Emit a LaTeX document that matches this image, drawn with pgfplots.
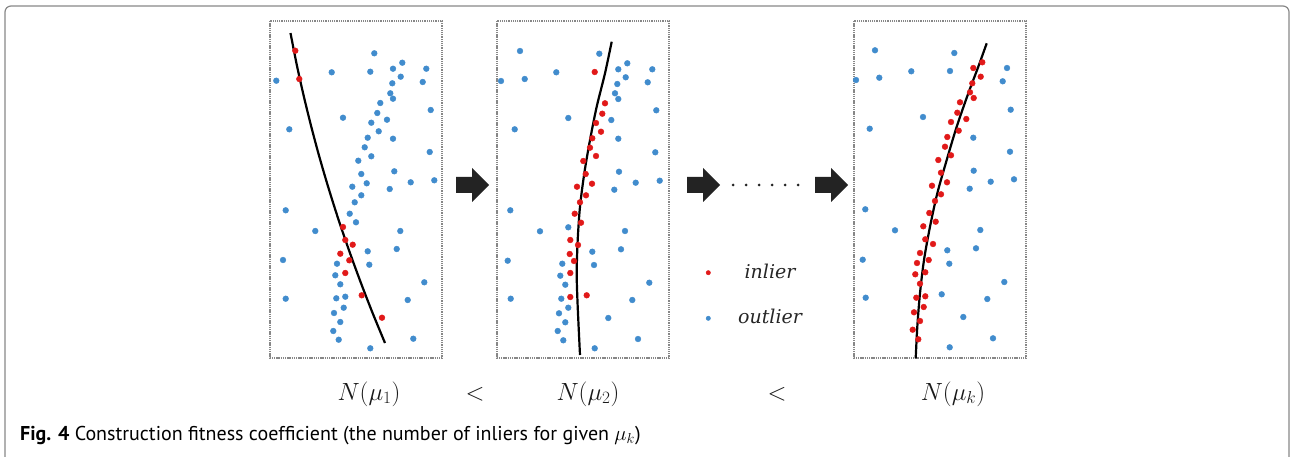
\documentclass[border=0pt]{standalone}
\usepackage{pgfplots}
\pgfplotsset{compat=1.18}
\usepackage{fontspec}
\newfontfamily\capfont{PT Sans}
\newfontfamily\legfont{DejaVu Serif}
\definecolor{ptblue}{RGB}{65,140,205}
\definecolor{ptred}{RGB}{225,25,25}
\definecolor{framegray}{RGB}{135,135,135}
\definecolor{arrowgray}{RGB}{35,35,35}
\pgfplotsset{
  panel/.style={scale only axis, width=172pt, height=337pt,
    ymin=21, ymax=358, y dir=reverse, ticks=none, clip=false, anchor=center,
    axis line style={framegray, line width=1.3pt, dash pattern=on 1.3pt off 0.9pt}},
  inl/.style={only marks, color=ptred, mark=*, mark size=2.9pt, mark options={solid, fill=ptred, draw=ptred}},
  outl/.style={only marks, color=ptblue, mark=*, mark size=2.9pt, mark options={solid, fill=ptblue, draw=ptblue}},
  fit/.style={black, line width=2.2pt, smooth, no marks},
}
\begin{document}
\begin{tikzpicture}
\path[use as bounding box] (0,0) rectangle (1291pt,-457pt);
% outer frame
\draw[framegray, line width=1.2pt, rounded corners=6pt] (5pt,-457pt) -- (5pt,-6pt) -- (1289pt,-6pt) -- (1289pt,-457pt);

% ---------------- panel 1
\begin{axis}[panel, xmin=270, xmax=442, at={(356pt,-189.5pt)}]
\addplot[outl] coordinates {
(374.3,53.3) (402.3,62.7) (426.3,68.7) (331.7,72.3) (370.3,71.7) (393,68.7)
(276.3,80.7) (400.7,76.7) (422.7,82) (392.3,83.3) (390.3,93.3) (393,98.7)
(380.3,103) (430.7,110) (377.3,113) (343,117.7) (387,119.7) (371.3,122.7)
(289.3,129.3) (378.7,131.3) (367.7,137.7) (393,138.7) (364.7,147.3) (429.7,152)
(371.3,156.3) (358.3,160.7) (394.3,171.3) (361.3,174) (410.7,182.3) (434.3,180.3)
(352.3,186.7) (366.7,183.3) (389.7,189) (361.3,195.3) (354.7,202.3) (285.7,210.3)
(349.7,213.7) (356,222.3) (315.3,231) (400.3,231) (396.7,249) (367.7,251.3)
(283,260) (337,263.7) (369.3,264.7) (335.3,275.3) (340.3,284.3) (424.3,282.3)
(285.7,298.7) (336.3,298.3) (345.3,296.7) (407.7,300) (343.7,307.7) (334,313)
(340.3,322) (333.3,331) (338.7,339.7) (413.3,338.7) (370.3,348.3)};
\addplot[fit] coordinates {
(290.5,33) (296.6,64) (303.5,95) (311.1,126) (319.4,157) (328.5,188)
(338.3,219) (348.9,250) (360.2,281) (372.2,312) (385,343)};
\addplot[inl] coordinates {
(295.3,50.7) (299.3,79) (343,227) (345.3,240) (352.7,244.7) (340.3,253.7)
(349.3,260.3) (345.3,273) (361.7,295.3) (382,317.7)};
\end{axis}

% ---------------- panel 2
\begin{axis}[panel, xmin=497, xmax=669, at={(583pt,-189.5pt)}]
\addplot[outl] coordinates {
(520,51) (599.3,53.7) (627.3,63.3) (652.3,69.3) (556.3,72.3) (618.3,69.3)
(501,81) (524.7,79) (625.7,77.3) (647.7,82.3) (617.3,84) (615,93.3)
(618.3,99) (656.3,110.3) (611.3,120) (568.3,118) (514.7,129.3) (618.3,138.7)
(655.3,152.3) (619,171.7) (635.7,182.7) (659.7,180.7) (614.3,189.7) (510.3,210.3)
(568.3,227.3) (540,231.3) (625,231) (621,249.3) (592.3,251.7) (507.7,260.7)
(562.3,263.7) (594,265) (560.3,275.7) (565.3,284.7) (649.3,282.7) (510.7,298.7)
(561.3,298.7) (568.3,307.7) (632.3,300) (559,313.3) (608.3,318) (565.3,322.3)
(557.7,331) (563.3,340.3) (638,339) (594.7,348.3)};
\addplot[fit] coordinates {
(611.7,41.7) (605,73.3) (596.7,106.7) (590,140) (584.3,173.3) (580,206.7)
(577.7,240) (576.7,273.3) (577.7,306.7) (580,355)};
\addplot[inl] coordinates {
(594.7,72) (605,103.3) (602.3,113.7) (596,123) (601,131.7) (592.3,138.3)
(590,147.7) (596,156) (583.3,161) (585.7,174) (592,183.7) (577,186.7)
(586,195.3) (580,202.3) (574.7,213.7) (581,222.7) (570.3,240) (578,245)
(569.7,254) (574,261) (570.3,273) (570.3,297) (586.7,295.3)};
\end{axis}

% ---------------- panel 3
\begin{axis}[panel, xmin=854, xmax=1026, at={(940pt,-189.5pt)}]
\addplot[outl] coordinates {
(875,50.3) (954.3,53) (1007,68) (911.3,71.3) (950,71) (856,80)
(879.3,77.7) (1002.7,81.3) (1010.7,109.7) (923,117) (869.7,128.7) (973.3,137.7)
(1010,151.7) (973.7,170.7) (990.7,181.7) (1014,179.3) (969.7,188.7) (865.3,209.3)
(895,230.3) (980.3,230) (976,248.3) (947.3,250.3) (862.7,259.7) (949.3,263.7)
(1004.3,282) (865.7,297.7) (941.7,294.3) (987.3,299) (963.3,317) (993,338.3)
(949.7,347.3)};
\addplot[fit] coordinates {
(986.7,43.3) (978.3,66.7) (968.3,93.3) (956.7,126.7) (946.7,160) (937.3,193.3)
(930,226.7) (924,260) (920,293.3) (917.3,326.7) (915.7,358.3)};
\addplot[inl] coordinates {
(982.3,62.3) (973.3,68) (980.7,76.7) (972.3,83.3) (970,92.3) (973.7,98)
(960,102.3) (957.3,112.7) (966.3,119) (951,122) (958.7,130.7) (947.3,137)
(945,146.7) (951,155.3) (938.3,160) (941,172.7) (947,182.3) (932,185.7)
(941,194.3) (935,201) (929.3,213) (935.7,221.7) (923.3,226.3) (925.3,239.3)
(933,244) (920,253) (928.7,260) (917,263) (925.3,272.3) (915.3,274.3)
(920,283.7) (916.3,297.7) (925.3,296.3) (923.7,307) (914,312.3) (920,321)
(912.7,329.7) (918.3,339.3)};
% legend
\addplot[only marks, color=ptred, mark=*, mark size=2.2pt, mark options={solid, fill=ptred, draw=ptred}] coordinates {(708.3,272.7)};
\addplot[only marks, color=ptblue, mark=*, mark size=2.2pt, mark options={solid, fill=ptblue, draw=ptblue}] coordinates {(708.3,318.3)};
\node[font=\legfont\itshape\fontsize{19}{22}\selectfont, text=black!85] at (axis cs:770,271) {inlier};
\node[font=\legfont\itshape\fontsize{19}{22}\selectfont, text=black!85] at (axis cs:770,316) {outlier};
\end{axis}

% arrows and dots
\begin{scope}[x=1pt, y=1pt]
\foreach \xa in {456,687,815}{
  \fill[arrowgray] (\xa,-177) -- ({\xa+16},-177) -- ({\xa+16},-168) -- ({\xa+33},-185)
     -- ({\xa+16},-202) -- ({\xa+16},-193) -- (\xa,-193) -- cycle;
}
\foreach \xd in {733,746,759,772,785,798}{
  \fill[arrowgray] (\xd,-185) circle (1.5);
}
\end{scope}

% labels below panels
\begin{scope}[every node/.style={anchor=base, inner sep=0pt, font=\fontsize{26}{30}\selectfont, text=black!90}]
\node at (369pt,-400pt) {$N(\mu_1)$};
\node at (475pt,-400pt) {$<$};
\node at (588pt,-400pt) {$N(\mu_2)$};
\node at (777pt,-400pt) {$<$};
\node at (953pt,-400pt) {$N(\mu_k)$};
\end{scope}

% caption
\node[anchor=base west, inner sep=0pt, font=\capfont\fontsize{20}{24}\selectfont] at (20pt,-440pt)
  {\textbf{Fig. 4} Construction fitness coefficient (the number of inliers for given $\mu_k$)};
\end{tikzpicture}
\end{document}
